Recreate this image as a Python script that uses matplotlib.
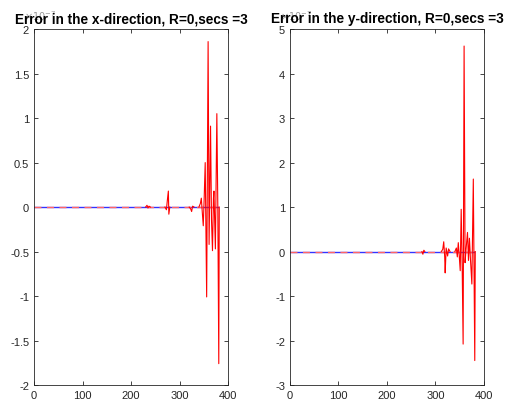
import numpy as np
import matplotlib
matplotlib.use('Agg')
import matplotlib.pyplot as plt

plt.rcParams['font.family'] = ['Liberation Sans', 'DejaVu Sans']

# flat reference (zero) line
base_x = [0, 380]
base_y = [0, 0]

# error spikes in x-direction (units of 1e-7), NaN breaks the trace
ex_x = [230, 233, 235, 237, 240, np.nan,
        270, 273, 275, 277, 278, 280, np.nan,
        320, 323, 325, 327, 330, np.nan,
        340, 343, 345, 347, 349, 351, 353, 356, 359, 361, 364, 366, 368, 370, 371, 374, 377, 379, 381, 382]
ex_y = [0, 0.02, -0.01, 0.01, 0, np.nan,
        0, -0.03, 0.08, 0.18, -0.08, 0, np.nan,
        0, -0.02, -0.05, 0.01, 0, np.nan,
        0, 0.04, 0.10, -0.06, -0.21, 0.12, 0.50, -1.01, 1.86, -0.42, 0.91, -0.15, -0.49, 0.10, 0.18, -0.47, 1.05, 0.0, -1.76, 0]

# error spikes in y-direction (units of 1e-7)
ey_x = [272, 274, 276, 278, np.nan,
        312, 315, 317, 319, 320, 322, 325, 327, 330, np.nan,
        340, 343, 345, 347, 349, 351, 353, 355, 357, 359, 361, 363, 366, 368, 370, 372, 375, 378, 381, 382]
ey_y = [0, -0.06, 0.03, 0, np.nan,
        0, 0.05, 0.22, -0.12, -0.48, 0.08, -0.10, 0.06, 0, np.nan,
        0, 0.08, -0.12, 0.20, -0.10, -0.43, 0.95, -0.30, -2.08, 4.62, -0.25, 0.05, 0.43, -0.20, 0.30, -0.15, -0.73, 1.63, -2.45, 0]

panels = [
    ('x', ex_x, ex_y, (-2, 2), np.arange(-2, 2.01, 0.5), [0.0671, 0.0585, 0.3826, 0.868]),
    ('y', ey_x, ey_y, (-3, 5), np.arange(-3, 5.01, 1), [0.572, 0.0585, 0.3826, 0.868]),
]

fig = plt.figure(figsize=(5.07, 4.10), dpi=100)

for name, sx, sy, ylim, yticks, pos in panels:
    ax = fig.add_axes(pos)
    ax.plot(base_x, base_y, color='blue', lw=1.0, alpha=0.8)
    ax.plot(base_x, base_y, color='#ff6666', lw=1.0, ls=(0, (5, 4)))
    ax.plot(sx, sy, color='red', lw=0.8)
    ax.set_xlim(0, 400)
    ax.set_ylim(*ylim)
    ax.set_xticks([0, 100, 200, 300, 400])
    ax.set_yticks(yticks)
    ax.set_yticklabels(['%g' % v for v in yticks])
    ax.tick_params(direction='in', top=True, right=True, labelsize=8,
                   colors='#262626', length=3, width=0.6)
    for s in ax.spines.values():
        s.set_linewidth(0.6)
        s.set_color('#262626')
    ax.set_title('Error in the %s-direction, R=0,secs =3' % name,
                 fontsize=9.8, fontweight='bold', pad=5)
    ax.text(-0.05, 1.02, r'$\times10^{-7}$', transform=ax.transAxes,
            fontsize=7, color='#999999', ha='left', va='bottom')

fig.savefig('out.png', dpi=100)
